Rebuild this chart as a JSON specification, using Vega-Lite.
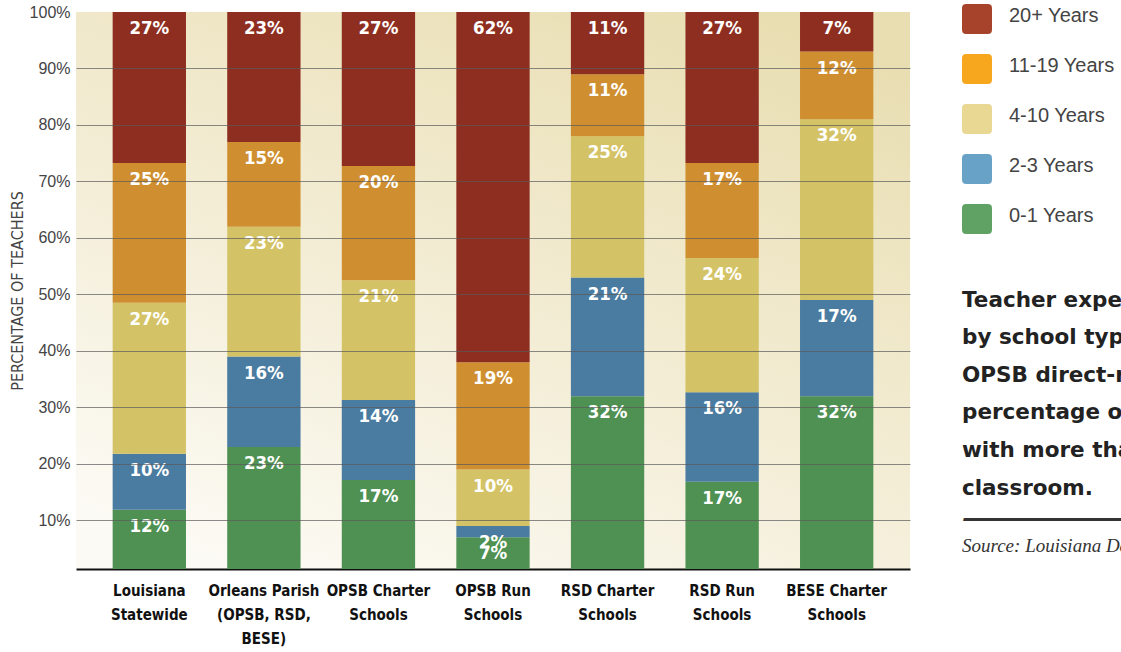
{
  "$schema": "https://vega.github.io/schema/vega-lite/v6.json",
  "width": 834,
  "height": 557,
  "autosize": {"type": "none"},
  "padding": {"left": 76, "top": 12, "right": 211, "bottom": 83},
  "background": "white",
  "title": {
    "text": ["Teacher experience varies", "by school type, with", "OPSB direct-run schools having the highest", "percentage of teachers", "with more than 20 years in the", "classroom."],
    "subtitle": ["━━━━━━━━━━━━━━━━━━━━━━━━━━━━━━━━━━━━━━━━", "Source: Louisiana Department of Education"],
    "orient": "top",
    "anchor": "start",
    "frame": "group",
    "dx": 886,
    "dy": 556,
    "font": "DejaVu Sans",
    "fontSize": 21.5,
    "fontWeight": "bold",
    "color": "#222222",
    "lineHeight": 37.6,
    "subtitleFont": "Liberation Serif",
    "subtitleFontStyle": "italic",
    "subtitleFontSize": 19,
    "subtitleColor": "#333333",
    "subtitleLineHeight": 26,
    "subtitlePadding": 12
  },
  "data": {
    "values": [
      {"school": "Louisiana Statewide", "years": "0-1 Years", "p": 0.12, "o": 1},
      {"school": "Louisiana Statewide", "years": "2-3 Years", "p": 0.10, "o": 2},
      {"school": "Louisiana Statewide", "years": "4-10 Years", "p": 0.27, "o": 3},
      {"school": "Louisiana Statewide", "years": "11-19 Years", "p": 0.25, "o": 4},
      {"school": "Louisiana Statewide", "years": "20+ Years", "p": 0.27, "o": 5},
      {"school": "Orleans Parish (OPSB, RSD, BESE)", "years": "0-1 Years", "p": 0.23, "o": 1},
      {"school": "Orleans Parish (OPSB, RSD, BESE)", "years": "2-3 Years", "p": 0.16, "o": 2},
      {"school": "Orleans Parish (OPSB, RSD, BESE)", "years": "4-10 Years", "p": 0.23, "o": 3},
      {"school": "Orleans Parish (OPSB, RSD, BESE)", "years": "11-19 Years", "p": 0.15, "o": 4},
      {"school": "Orleans Parish (OPSB, RSD, BESE)", "years": "20+ Years", "p": 0.23, "o": 5},
      {"school": "OPSB Charter Schools", "years": "0-1 Years", "p": 0.17, "o": 1},
      {"school": "OPSB Charter Schools", "years": "2-3 Years", "p": 0.14, "o": 2},
      {"school": "OPSB Charter Schools", "years": "4-10 Years", "p": 0.21, "o": 3},
      {"school": "OPSB Charter Schools", "years": "11-19 Years", "p": 0.20, "o": 4},
      {"school": "OPSB Charter Schools", "years": "20+ Years", "p": 0.27, "o": 5},
      {"school": "OPSB Run Schools", "years": "0-1 Years", "p": 0.07, "o": 1},
      {"school": "OPSB Run Schools", "years": "2-3 Years", "p": 0.02, "o": 2},
      {"school": "OPSB Run Schools", "years": "4-10 Years", "p": 0.10, "o": 3},
      {"school": "OPSB Run Schools", "years": "11-19 Years", "p": 0.19, "o": 4},
      {"school": "OPSB Run Schools", "years": "20+ Years", "p": 0.62, "o": 5},
      {"school": "RSD Charter Schools", "years": "0-1 Years", "p": 0.32, "o": 1},
      {"school": "RSD Charter Schools", "years": "2-3 Years", "p": 0.21, "o": 2},
      {"school": "RSD Charter Schools", "years": "4-10 Years", "p": 0.25, "o": 3},
      {"school": "RSD Charter Schools", "years": "11-19 Years", "p": 0.11, "o": 4},
      {"school": "RSD Charter Schools", "years": "20+ Years", "p": 0.11, "o": 5},
      {"school": "RSD Run Schools", "years": "0-1 Years", "p": 0.17, "o": 1},
      {"school": "RSD Run Schools", "years": "2-3 Years", "p": 0.16, "o": 2},
      {"school": "RSD Run Schools", "years": "4-10 Years", "p": 0.24, "o": 3},
      {"school": "RSD Run Schools", "years": "11-19 Years", "p": 0.17, "o": 4},
      {"school": "RSD Run Schools", "years": "20+ Years", "p": 0.27, "o": 5},
      {"school": "BESE Charter Schools", "years": "0-1 Years", "p": 0.32, "o": 1},
      {"school": "BESE Charter Schools", "years": "2-3 Years", "p": 0.17, "o": 2},
      {"school": "BESE Charter Schools", "years": "4-10 Years", "p": 0.32, "o": 3},
      {"school": "BESE Charter Schools", "years": "11-19 Years", "p": 0.12, "o": 4},
      {"school": "BESE Charter Schools", "years": "20+ Years", "p": 0.07, "o": 5}
    ]
  },
  "encoding": {
    "x": {
      "field": "school",
      "type": "nominal",
      "sort": null,
      "scale": {"paddingInner": 0.36, "paddingOuter": 0.32},
      "axis": {
        "title": null,
        "labelAngle": 0,
        "ticks": false,
        "domain": true,
        "domainColor": "#111111",
        "domainWidth": 2,
        "labelFont": "'DejaVu Sans Condensed', 'Roboto Condensed', Roboto, sans-serif",
        "labelFontWeight": "bold",
        "labelFontSize": 15,
        "labelColor": "#111111",
        "labelLineHeight": 24,
        "labelPadding": 14,
        "labelBaseline": "top",
        "labelExpr": "{'Louisiana Statewide':['Louisiana','Statewide'],'Orleans Parish (OPSB, RSD, BESE)':['Orleans Parish','(OPSB, RSD,','BESE)'],'OPSB Charter Schools':['OPSB Charter','Schools'],'OPSB Run Schools':['OPSB Run','Schools'],'RSD Charter Schools':['RSD Charter','Schools'],'RSD Run Schools':['RSD Run','Schools'],'BESE Charter Schools':['BESE Charter','Schools']}[datum.label]"
      }
    },
    "y": {
      "field": "p",
      "type": "quantitative",
      "stack": "normalize",
      "scale": {"domain": [0.014, 1], "nice": false, "zero": false},
      "axis": {
        "title": "PERCENTAGE OF TEACHERS",
        "titleFont": "'DejaVu Sans Condensed', 'Roboto Condensed', Roboto, sans-serif",
        "titleFontWeight": "normal",
        "titleFontSize": 16,
        "titleColor": "#444444",
        "titlePadding": 4,
        "values": [0.1, 0.2, 0.3, 0.4, 0.5, 0.6, 0.7, 0.8, 0.9, 1.0],
        "format": ".0%",
        "labelFont": "Liberation Sans",
        "labelFontSize": 16,
        "labelColor": "#444444",
        "labelPadding": 6,
        "ticks": false,
        "domain": false,
        "grid": true,
        "gridColor": "#5a5a5a",
        "gridWidth": 1,
        "gridOpacity": {"condition": {"test": "datum.value >= 0.99", "value": 0}, "value": 0.7},
        "zindex": 1
      }
    },
    "order": {"field": "o", "type": "quantitative"}
  },
  "layer": [
    {
      "mark": {"type": "bar", "clip": true},
      "encoding": {
        "fill": {
          "field": "years",
          "type": "nominal",
          "scale": {
            "domain": ["0-1 Years", "2-3 Years", "4-10 Years", "11-19 Years", "20+ Years"],
            "range": ["#4e9152", "#4a7ba0", "#d4c366", "#cf8f31", "#8e2e20"]
          },
          "legend": null
        }
      }
    },
    {
      "mark": {"type": "point", "filled": true, "opacity": 0},
      "encoding": {
        "color": {
          "field": "years",
          "type": "nominal",
          "scale": {
            "domain": ["20+ Years", "11-19 Years", "4-10 Years", "2-3 Years", "0-1 Years"],
            "range": ["#a6432a", "#f7a71e", "#e8d893", "#69a2c7", "#5fa263"]
          },
          "legend": {
            "title": null,
            "orient": "none",
            "legendX": 886,
            "legendY": -8,
            "symbolType": "M-0.72,-1H0.72Q1,-1 1,-0.72V0.72Q1,1 0.72,1H-0.72Q-1,1 -1,0.72V-0.72Q-1,-1 -0.72,-1Z",
            "symbolSize": 900,
            "symbolStrokeWidth": 0,
            "symbolOpacity": 1,
            "labelFont": "Liberation Sans",
            "labelFontSize": 20,
            "labelColor": "#444444",
            "labelOffset": 17,
            "rowPadding": 20,
            "labelLimit": 300,
            "encode": {
              "symbols": {"update": {"opacity": {"value": 1}, "fillOpacity": {"value": 1}}},
              "labels": {"update": {"dy": {"value": -3}}}
            }
          }
        }
      }
    },
    {
      "mark": {
        "type": "text",
        "baseline": "top",
        "align": "center",
        "dy": 7,
        "color": "white",
        "font": "'DejaVu Sans Condensed', 'Roboto Condensed', Roboto, sans-serif",
        "fontWeight": "bold",
        "fontSize": 18.5
      },
      "encoding": {
        "detail": {"field": "years", "type": "nominal"},
        "text": {"field": "p", "type": "quantitative", "format": ".0%"}
      }
    }
  ],
  "config": {
    "view": {
      "stroke": null,
      "fill": {
        "gradient": "linear",
        "x1": 0.2, "y1": 1, "x2": 0.8, "y2": 0,
        "stops": [
          {"offset": 0, "color": "#fcfaf4"},
          {"offset": 1, "color": "#e9deb2"}
        ]
      }
    }
  }
}
